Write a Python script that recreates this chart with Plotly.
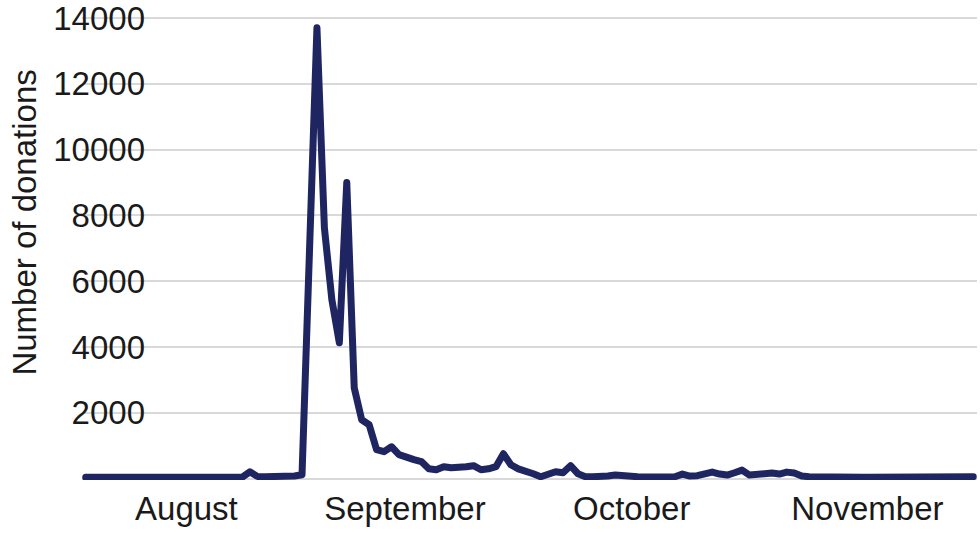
import plotly.graph_objects as go

# Daily number of donations (index = day in the Aug–Nov period shown)
day_index = list(range(120))
donations = [
    40, 40, 40, 40, 40, 40, 40, 40, 40, 40,
    40, 40, 40, 40, 40, 40, 40, 40, 40, 40,
    40, 50, 210, 70, 60, 60, 60, 60, 80, 120,
    6800, 13700, 7620, 5440, 4130, 9000, 2760, 1790, 1640, 880,
    820, 970, 730, 640, 580, 520, 300, 270, 365, 330,
    330, 365, 395, 270, 300, 365, 760, 425, 300, 240,
    150, 60, 150, 210, 180, 395, 150, 60, 60, 50,
    80, 110, 110, 80, 60, 50, 50, 60, 80, 60,
    140, 80, 90, 130, 200, 140, 110, 180, 260, 110,
    140, 170, 170, 140, 200, 170, 80, 60, 50, 50,
    50, 40, 40, 40, 40, 40, 40, 40, 40, 50,
    60, 50, 50, 40, 40, 50, 60, 60, 50, 60,
]

month_labels = ["August", "September", "October", "November"]
month_positions = [13.5, 42.8, 73.2, 104.8]
y_ticks = [0, 2000, 4000, 6000, 8000, 10000, 12000, 14000]
y_tick_labels = ["", "2000", "4000", "6000", "8000", "10000", "12000", "14000"]

FONT = "Arial, Liberation Sans, sans-serif"

fig = go.Figure()
fig.add_trace(go.Scatter(
    x=day_index, y=donations, mode="lines",
    line=dict(color="#1e2560", width=7),
    hoverinfo="skip", showlegend=False,
))

fig.update_layout(
    width=980, height=534,
    margin=dict(l=82, r=3, t=15, b=54, autoexpand=False),
    paper_bgcolor="white", plot_bgcolor="white",
    font=dict(family=FONT, size=33, color="#1a1a1a"),
    showlegend=False,
    annotations=[dict(
        text="Number of donations", textangle=-90,
        xref="paper", yref="paper", x=-0.064, y=0.553,
        xanchor="center", yanchor="middle", showarrow=False,
        font=dict(family=FONT, size=33, color="#1a1a1a"),
    )],
)
fig.update_xaxes(
    range=[-0.5, 119.5], showgrid=False, zeroline=False, showline=False,
    tickmode="array", tickvals=month_positions, ticktext=month_labels,
    ticks="", ticklabelstandoff=6, automargin=False,
)
fig.update_yaxes(
    range=[-40, 14090], showgrid=True, gridcolor="#d9d9d9", gridwidth=2,
    zeroline=False, showline=False,
    tickmode="array", tickvals=y_ticks, ticktext=y_tick_labels,
    ticks="", ticklabelstandoff=-64, ticklabeloverflow="allow",
    automargin=False,
)

fig.write_html(
    "out.html",
    config={"displayModeBar": False},
    post_script=(
        "document.body.style.margin='0';document.body.style.overflow='hidden';"
        "document.querySelectorAll('.scatterlayer path.js-line').forEach(function(p){"
        "p.style.strokeLinejoin='round';p.style.strokeLinecap='round';});"
    ),
)
